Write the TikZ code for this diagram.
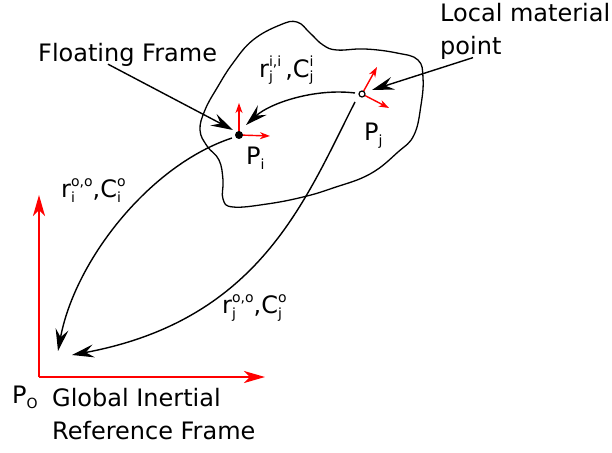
\documentclass[tikz,border=0pt]{standalone}
\usepackage{fontspec}
\setmainfont{DejaVu Sans}
\usetikzlibrary{arrows.meta,calc}
\newcommand\supfont{\fontsize{14}{14}\selectfont}
\newcommand\SupSub[3]{#1\setbox0=\hbox{\supfont #2}\setbox2=\hbox{\supfont #3}%
  \dimen0=\wd0 \ifdim\wd2>\dimen0 \dimen0=\wd2\fi
  \rlap{\raise 10.5pt\box0}\rlap{\lower 5pt\box2}\kern\dimen0}
\newcommand\Sub[2]{#1\lower 5pt\hbox{\supfont #2}}
\begin{document}
\begin{tikzpicture}[x=1pt,y=-1pt,
  lbl/.style={inner sep=0pt, font=\fontsize{24}{33}\selectfont},
  conn/.style={line width=1.4pt, -{Stealth[length=22pt,width=13pt,inset=8pt]}},
  gaxis/.style={red, line width=2.2pt, -{Stealth[length=21pt,width=12pt,inset=6pt]}},
  laxis/.style={red, line width=1.4pt, -{Stealth[length=10pt,width=7pt,inset=3pt]}}]
\useasboundingbox (0,0) rectangle (612,452);
% body outline
\draw[line width=1.3pt] plot[smooth cycle, tension=0.7] coordinates {
 (253,40) (280,25) (297,22) (310,33) (323,45) (337,50) (365,49) (397,53)
 (418,60) (423,78) (421,105) (414,135) (398,152) (370,174) (333,188)
 (303,197) (267,204) (233,207) (223,199) (223,180) (219,160) (207,146)
 (200,130) (205,110) (217,88) (233,63)};
% points
\coordinate (Pi) at (239,135);
\coordinate (Pj) at (362,94);
\coordinate (O) at (39,377);
\coordinate (Piy) at (239,103);
\coordinate (Pix) at (270,136);
\coordinate (Pja) at (377,67);
\coordinate (Pjb) at (389,108);
\coordinate (Ox) at (265,377);
\coordinate (Oy) at (39,195);
% frames
\draw[gaxis] (O) -- (Oy);
\draw[gaxis] (O) -- (Ox);
\draw[laxis] (Pi) -- (Piy);
\draw[laxis] (Pi) -- (Pix);
\draw[laxis] (Pj) -- (Pja);
\draw[laxis] (Pj) -- (Pjb);
\fill (Pi) circle (4pt);
\draw[line width=1.2pt, fill=white] (Pj) circle (3pt);
% labels
\node[lbl, anchor=base west] (PiL) at (246,164) {\Sub{P}{i}};
\node[lbl, anchor=base west] (PjL) at (364,140) {\Sub{P}{j}};
\node[lbl, anchor=base west] (PO) at (12,403) {\Sub{P}{O}};
\node[lbl, anchor=base west] (FF) at (38,62) {Floating Frame};
\node[lbl, anchor=north west, align=left] (LM) at (440,3) {Local material\\point};
\node[lbl, anchor=north west, align=left] (GI) at (52,388) {Global Inertial\\Reference Frame};
\node[lbl, anchor=base west] (rji) at (259,77) {\SupSub{r}{i,i}{j}\,,\SupSub{C}{i}{j}};
\node[lbl, anchor=base west] (rio) at (61,197) {\SupSub{r}{o,o}{i},\SupSub{C}{o}{i}};
\node[lbl, anchor=base west] (rjo) at (222,313) {\SupSub{r}{o,o}{j},\SupSub{C}{o}{j}};
% connectors
\coordinate (PjW) at (355,93);
\coordinate (PjS) at (355,102);
\coordinate (PiW) at (232,138);
\coordinate (PiNE) at (246,125);
\coordinate (PiNW) at (233,130);
\coordinate (PjE) at (372,90);
\coordinate (Oa) at (58,351);
\coordinate (Ob) at (72,355);
\draw[conn] (PjW) .. controls (315,88) and (270,103) .. (PiNE);
\draw[conn] (PiW) .. controls (150,165) and (75,260) .. (Oa);
\draw[conn] (PjS) .. controls (305,200) and (260,320) .. (Ob);
\draw[conn] ($(FF.south west)+(70,-3)$) -- (PiNW);
\draw[conn] ($(LM.south west)+(33,-2)$) -- (PjE);
\end{tikzpicture}
\end{document}
